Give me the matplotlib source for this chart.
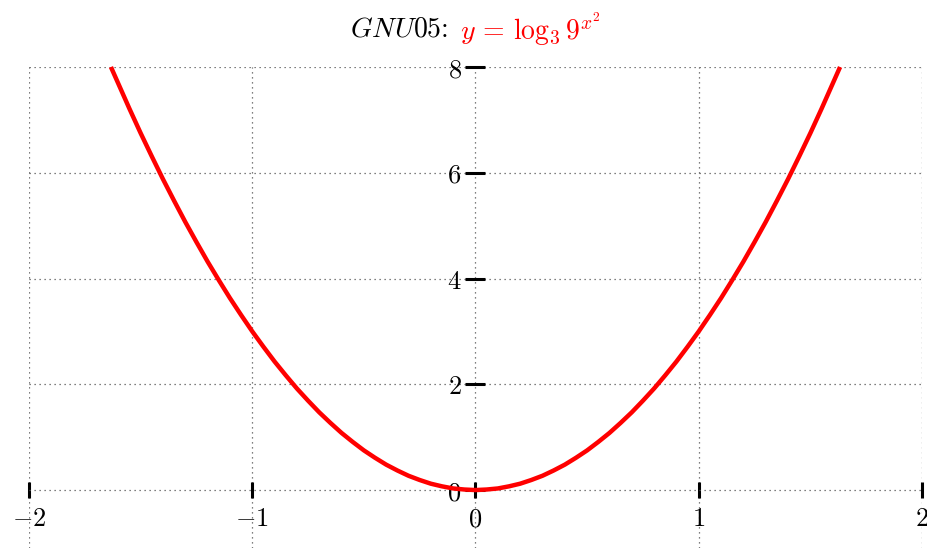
import matplotlib
matplotlib.use("Agg")
import matplotlib.pyplot as plt

plt.rcParams["mathtext.fontset"] = "cm"
plt.rcParams["font.family"] = ["DejaVu Serif"]

# Curve samples of y = log_3 9^(x^2)
x_vals = [-1.633, -1.55, -1.5, -1.45, -1.4, -1.35, -1.3, -1.25, -1.2, -1.15, -1.1,
          -1.05, -1.0, -0.95, -0.9, -0.85, -0.8, -0.75, -0.7, -0.65, -0.6, -0.55,
          -0.5, -0.45, -0.4, -0.35, -0.3, -0.25, -0.2, -0.15, -0.1, -0.05, 0.0,
          0.05, 0.1, 0.15, 0.2, 0.25, 0.3, 0.35, 0.4, 0.45, 0.5, 0.55, 0.6, 0.65,
          0.7, 0.75, 0.8, 0.85, 0.9, 0.95, 1.0, 1.05, 1.1, 1.15, 1.2, 1.25, 1.3,
          1.35, 1.4, 1.45, 1.5, 1.55, 1.633]
y_vals = [8.0, 7.21, 6.75, 6.31, 5.88, 5.47, 5.07, 4.69, 4.32, 3.97, 3.63,
          3.31, 3.0, 2.71, 2.43, 2.17, 1.92, 1.69, 1.47, 1.27, 1.08, 0.91,
          0.75, 0.61, 0.48, 0.37, 0.27, 0.19, 0.12, 0.07, 0.03, 0.01, 0.0,
          0.01, 0.03, 0.07, 0.12, 0.19, 0.27, 0.37, 0.48, 0.61, 0.75, 0.91, 1.08, 1.27,
          1.47, 1.69, 1.92, 2.17, 2.43, 2.71, 3.0, 3.31, 3.63, 3.97, 4.32, 4.69, 5.07,
          5.47, 5.88, 6.31, 6.75, 7.21, 8.0]

x_ticks = [-2, -1, 0, 1, 2]
y_ticks = [0, 2, 4, 6, 8]
x_ticklabels = [r"$-2$", r"$-1$", r"$0$", r"$1$", r"$2$"]
y_ticklabels = [r"$0$", r"$2$", r"$4$", r"$6$", r"$8$"]

W, H = 928, 548
fig = plt.figure(figsize=(W / 100, H / 100), dpi=100)
ax = fig.add_axes([29 / W, 0.0, 893 / W, (H - 67) / H])
ax.set_xlim(-2, 2)
ax.set_ylim(-1.096, 8)

for s in ["top", "right"]:
    ax.spines[s].set_visible(False)
ax.spines["left"].set_position(("data", 0))
ax.spines["bottom"].set_position(("data", 0))
ax.spines["left"].set_visible(False)
ax.spines["bottom"].set_visible(False)

ax.set_xticks(x_ticks)
ax.set_xticklabels(x_ticklabels)
ax.set_yticks(y_ticks)
ax.set_yticklabels(y_ticklabels)
ax.tick_params(axis="x", direction="inout", length=11.5, width=2.2,
               labelsize=19, pad=6, color="black")
ax.tick_params(axis="y", direction="inout", length=14, width=2.2,
               labelsize=19, pad=3, color="black")

ax.grid(True, linestyle=(0, (1, 3)), color="#555555", linewidth=0.9)
ax.set_axisbelow(True)

ax.plot(x_vals, y_vals, color="#ff0000", linewidth=3.2, zorder=5,
        solid_capstyle="butt", clip_on=False)

fig.text(448 / W, 1 - 29 / H, r"$\mathit{GNU05}$:", ha="right", va="center",
         fontsize=20, color="black", family=["cmr10"])
fig.text(460 / W, 1 - 29 / H, r"$y\,=\,\log_3 9^{x^2}$", ha="left", va="center",
         fontsize=20, color="#ff0000")

fig.savefig("out.png", dpi=100)
